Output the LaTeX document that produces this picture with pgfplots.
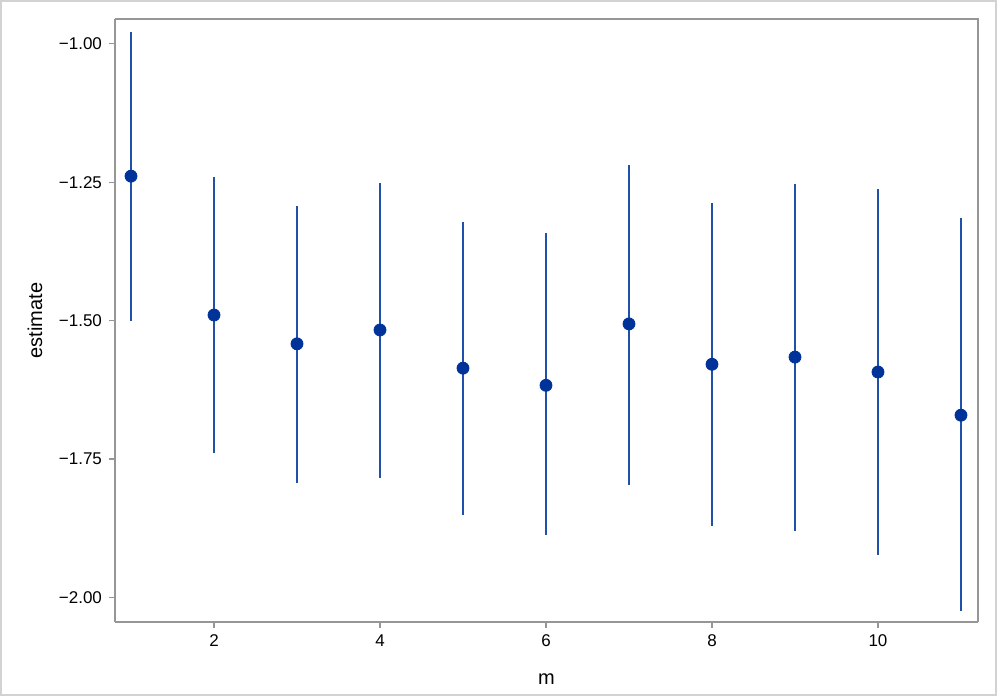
\documentclass[border=0pt]{standalone}
\usepackage{fontspec}
\setmainfont{Liberation Sans}
\usepackage{pgfplots}
\pgfplotsset{compat=1.18}
\usepackage{pgfplotstable}

\definecolor{markblue}{RGB}{0,51,153}
\definecolor{barblue}{RGB}{32,80,170}
\definecolor{framegray}{RGB}{150,150,150}

% m, estimate, error up, error down
\pgfplotstableread{
m est ep em
1 -1.239 0.261 0.262
2 -1.490 0.249 0.250
3 -1.542 0.249 0.252
4 -1.517 0.266 0.268
5 -1.586 0.264 0.266
6 -1.617 0.275 0.271
7 -1.506 0.287 0.291
8 -1.579 0.291 0.293
9 -1.566 0.313 0.315
10 -1.593 0.331 0.331
11 -1.671 0.356 0.353
}\esttable

\begin{document}
\begin{tikzpicture}
\begin{axis}[
  scale only axis,
  width=431.5pt, height=301.5pt,
  xmin=0.807, xmax=11.205,
  ymin=-2.0447, ymax=-0.955,
  xtick={2,4,6,8,10},
  ytick={-2,-1.75,-1.5,-1.25,-1},
  yticklabels={−2.00,−1.75,−1.50,−1.25,−1.00},
  /pgf/number format/assume math mode=true,
  tick label style={font=\fontsize{8.5}{10}\selectfont},
  label style={font=\fontsize{8.5}{10}\selectfont},
  axis y line*=left, axis x line*=bottom,
  axis line style={framegray, line width=0.6pt},
  tick style={framegray, line width=0.6pt},
  tick align=outside,
  major tick length=3pt,
  xtick pos=bottom, ytick pos=left,
  xlabel={m}, ylabel={estimate},
  every axis x label/.style={at={(axis description cs:0.5,-0.0945)}, anchor=center},
  every axis y label/.style={at={(axis description cs:-0.0927,0.5)}, rotate=90, anchor=center},
  clip=false,
]
\draw[framegray, line width=0.6pt] (rel axis cs:0,1) -- (rel axis cs:1,1) -- (rel axis cs:1,0);
\addplot[
  only marks, mark=*, mark size=3pt,
  mark options={fill=markblue, draw=markblue},
  error bars/.cd, y dir=both, y explicit,
  error mark=none,
  error bar style={barblue, line width=1pt},
] table[x=m, y=est, y error plus=ep, y error minus=em] {\esttable};
\draw[gray!35, line width=1pt] ([xshift=-57pt, yshift=-36.5pt]rel axis cs:0,0) rectangle ([xshift=440.5pt, yshift=-36.5pt+347pt]rel axis cs:0,0);
\end{axis}
\end{tikzpicture}
\end{document}
